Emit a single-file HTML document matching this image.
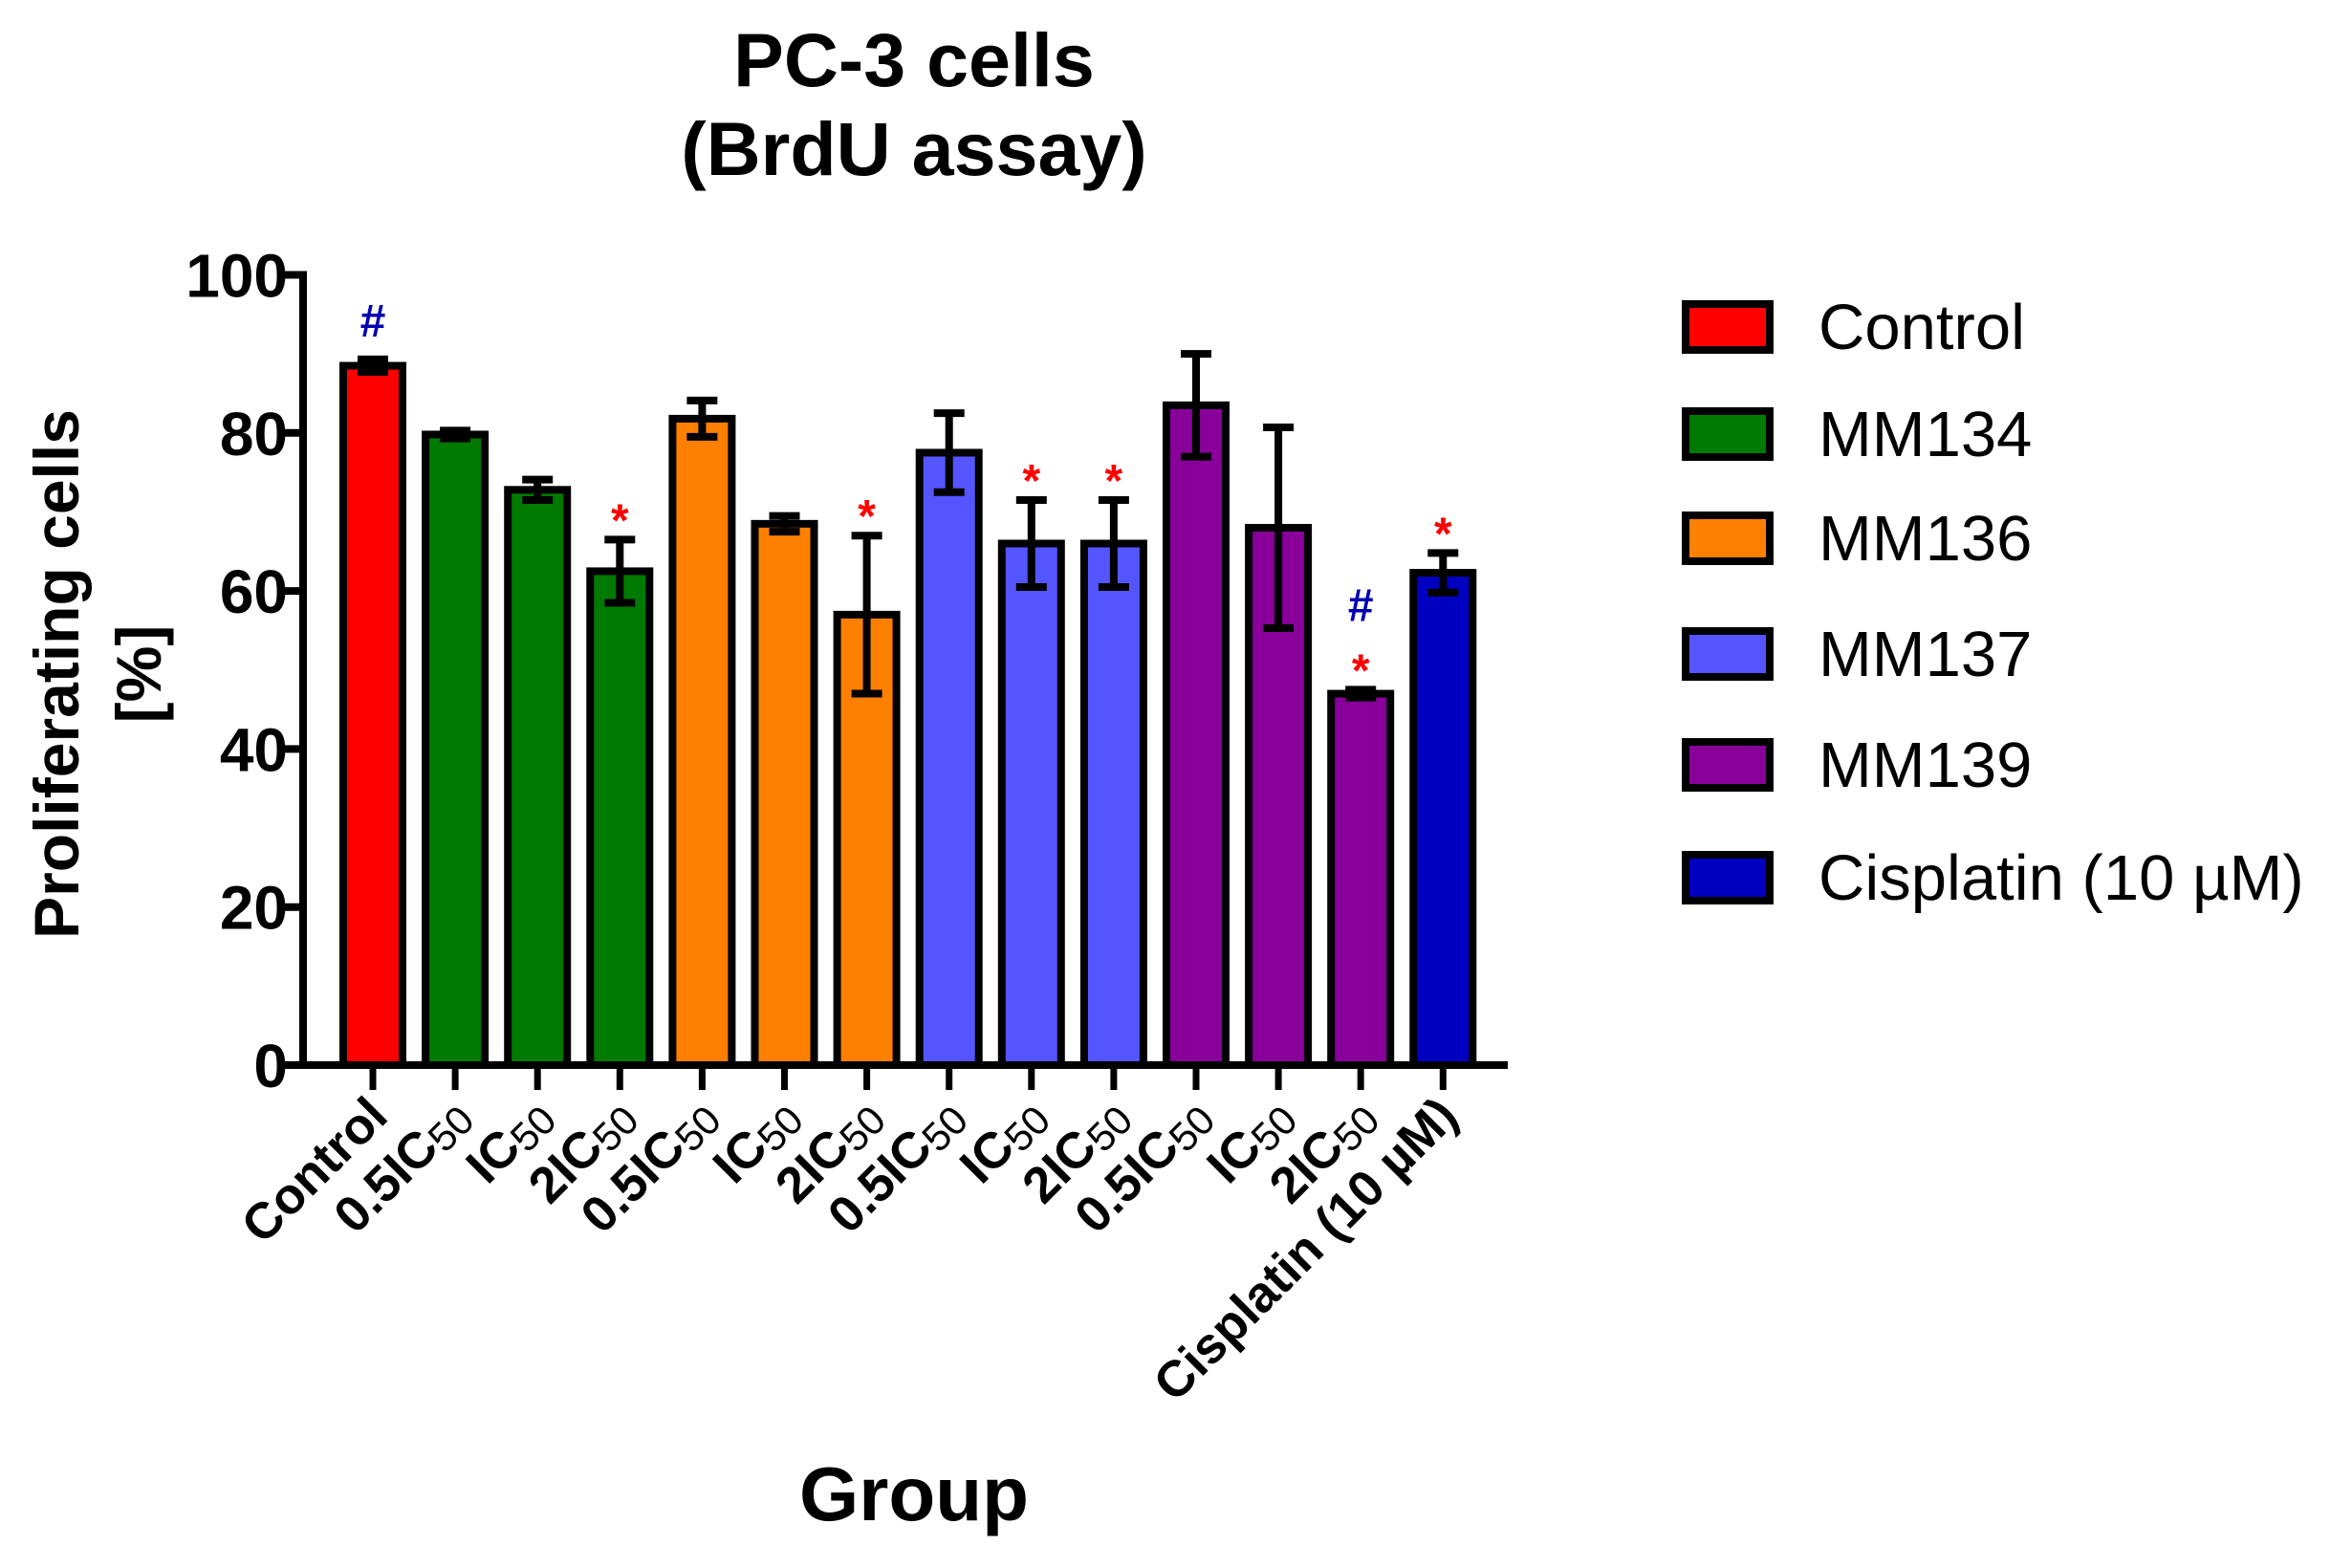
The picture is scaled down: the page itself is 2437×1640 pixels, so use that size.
<!DOCTYPE html>
<html><head><meta charset="utf-8"><style>
html,body{margin:0;padding:0;background:#fff;}
svg{display:block;font-family:"Liberation Sans",Arial,sans-serif;}
</style></head><body>
<svg id="chart" width="2437" height="1640" viewBox="0 0 2437 1640">
<text x="956" y="90" text-anchor="middle" font-size="79" font-weight="bold">PC-3 cells</text>
<text x="956" y="183" text-anchor="middle" font-size="79" font-weight="bold">(BrdU assay)</text>
<g transform="translate(82,705) rotate(-90)">
<text x="0" y="0" text-anchor="middle" font-size="66" font-weight="bold">Proliferating cells</text>
<text x="0" y="86" text-anchor="middle" font-size="66" font-weight="bold">[%]</text>
</g>
<text x="956" y="1590" text-anchor="middle" font-size="80" font-weight="bold">Group</text>
<g id="plot"></g>
<g id="legend"></g>
</svg>
<script>
const categories = ["Control","0.5IC|50","IC|50","2IC|50","0.5IC|50","IC|50","2IC|50","0.5IC|50","IC|50","2IC|50","0.5IC|50","IC|50","2IC|50","Cisplatin (10 µM)"];
const groups = ["Control","MM134","MM134","MM134","MM136","MM136","MM136","MM137","MM137","MM137","MM139","MM139","MM139","Cisplatin (10 µM)"];
const values = [88.5,79.8,72.8,62.5,81.8,68.5,57.0,77.5,66.0,66.0,83.5,68.0,47.0,62.3];
const errors = [0.8,0.5,1.3,4.0,2.3,1.0,10.0,5.0,5.5,5.5,6.5,12.7,0.5,2.5];
const stars = [false,false,false,true,false,false,true,false,true,true,false,false,true,true];
const hashes = [true,false,false,false,false,false,false,false,false,false,false,false,true,false];
const yTicks = [0,20,40,60,80,100];
const legendNames = ["Control","MM134","MM136","MM137","MM139","Cisplatin (10 µM)"];
const legendColors = ["#ff0000","#007a00","#ff8000","#5555ff","#880099","#0000c0"];

const NS="http://www.w3.org/2000/svg";
const plot=document.getElementById('plot');
const legend=document.getElementById('legend');
const X0=317, XEND=1577, Y0=1114, Y100=287.5;
const y=v=>Y0-(v/100)*(Y0-Y100);
const xc=i=>390+i*86.1;
const BW=62;
function mk(tag,attrs,parent){const e=document.createElementNS(NS,tag);for(const k in attrs)e.setAttribute(k,attrs[k]);parent.appendChild(e);return e;}
const colorOf=g=>legendColors[legendNames.indexOf(g)];

values.forEach((v,i)=>{
  const r=mk('rect',{x:xc(i)-BW/2,y:y(v),width:BW,height:Y0-y(v),fill:colorOf(groups[i]),stroke:'#000','stroke-width':8},plot);
  
  
  const e=errors[i];
  const g=mk('g',{stroke:'#000','stroke-width':8},plot);
  
  
  mk('line',{x1:xc(i),x2:xc(i),y1:y(v+e),y2:y(v-e)},g);
  mk('line',{x1:xc(i)-16,x2:xc(i)+16,y1:y(v+e),y2:y(v+e)},g);
  mk('line',{x1:xc(i)-16,x2:xc(i)+16,y1:y(v-e),y2:y(v-e)},g);
  let top=y(v+e)-24;
  if(stars[i]){
    const s=mk('text',{x:xc(i),y:top+20,'text-anchor':'middle','font-size':48,'font-weight':'bold',fill:'#ff0000'},plot);
    s.textContent='*';
    
    
    top-=48;
  }
  if(hashes[i]){
    const h=mk('text',{x:xc(i),y:top,'text-anchor':'middle','font-size':48,'font-weight':'bold',fill:'#0000b0'},plot);
    h.textContent='#';
    
    
  }
  const t=mk('line',{x1:xc(i),x2:xc(i),y1:Y0,y2:Y0+26,stroke:'#000','stroke-width':7},plot);
  
  
  const parts=categories[i].split('|');
  const lx=xc(i)+18, ly=Y0+56;
  const tx=mk('text',{transform:`translate(${lx},${ly}) rotate(-45)`,'text-anchor':'end','font-size':53,'font-weight':'bold'},plot);
  
  
  const a=mk('tspan',{},tx);a.textContent=parts[0];
  if(parts[1]){const b=mk('tspan',{'font-weight':'normal','font-size':42,dy:6},tx);b.textContent=parts[1];}
});

const ya=mk('line',{x1:X0,x2:X0,y1:Y100-4,y2:Y0+4,stroke:'#000','stroke-width':8},plot);


const xa=mk('line',{x1:X0-4,x2:XEND,y1:Y0,y2:Y0,stroke:'#000','stroke-width':8},plot);


yTicks.forEach(t=>{
  const l=mk('line',{x1:X0-26,x2:X0,y1:y(t),y2:y(t),stroke:'#000','stroke-width':8},plot);
  
  
  const tx=mk('text',{x:X0-16,y:y(t)+23,'text-anchor':'end','font-size':64,'font-weight':'bold'},plot);
  tx.textContent=t;
  
  
});

const ly=[342,454,563,684,800,918];
legendNames.forEach((n,i)=>{
  const g=mk('g',{},legend);
  
  
  mk('rect',{x:1763,y:ly[i]-24,width:88,height:48,fill:legendColors[i],stroke:'#000','stroke-width':8},g);
  const t=mk('text',{x:1902,y:ly[i]+23,'font-size':67},g);
  t.textContent=n;
});
</script>
</body></html>
